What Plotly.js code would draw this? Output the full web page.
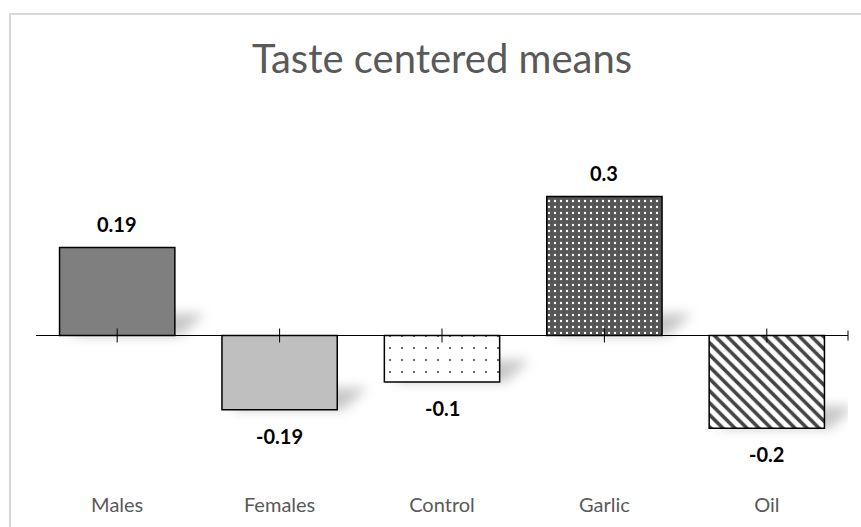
<!DOCTYPE html>
<html>
<head>
<meta charset="utf-8">
<script src="https://cdn.plot.ly/plotly-3.0.1.min.js"></script>
<style>
  html, body { margin: 0; padding: 0; background: #ffffff; overflow: hidden; }
  #frame { position: absolute; left: 9px; top: 13px; width: 900px; height: 600px;
           border-left: 2px solid #d9d9d9; border-top: 2px solid #d9d9d9; }
  #chart { position: absolute; left: 0; top: 0; width: 861px; height: 527px; }
</style>
</head>
<body>
<div id="frame"></div>
<div id="chart"></div>
<script>
// ---- data ----
const categories = ["Males", "Females", "Control", "Garlic", "Oil"];
const barValues = [0.19, -0.16, -0.10, 0.30, -0.20];
const labelTexts = ["0.19", "-0.19", "-0.1", "0.3", "-0.2"];
const chartTitle = "Taste centered means";

// ---- styles ----
const FONT = "Lato, 'Open Sans', sans-serif";
const patternShapes = ["", "", ".", ".", "\\"];
const barFill = ["#7f7f7f", "#bfbfbf", "#ffffff", "#555555", "#ffffff"];
const patternFg = ["#7f7f7f", "#bfbfbf", "#000000", "#ffffff", "#404040"];
const patternSize = [8, 8, 12, 6, 8.5];
const patternSolidity = [0.3, 0.3, 0.025, 0.12, 0.42];

const barTrace = {
  type: "bar",
  x: categories,
  y: barValues,
  marker: {
    color: barFill,
    line: { color: "#000000", width: 1.5 },
    pattern: {
      shape: patternShapes,
      fillmode: "overlay",
      fgcolor: patternFg,
      fgopacity: 1,
      size: patternSize,
      solidity: patternSolidity
    }
  },
  hoverinfo: "x+y",
  showlegend: false
};

const tickTrace = {
  type: "scatter",
  mode: "markers",
  x: categories,
  y: categories.map(() => 0),
  marker: { symbol: "line-ns-open", size: 10, color: "#000000", line: { color: "#000000", width: 1 } },
  hoverinfo: "skip",
  showlegend: false
};

const annotations = categories.map((c, i) => ({
  x: c,
  y: barValues[i],
  xref: "x",
  yref: "y",
  text: "<b>" + labelTexts[i] + "</b>",
  showarrow: false,
  yanchor: "middle",
  yshift: barValues[i] >= 0 ? 23 : -26,
  font: { family: FONT, size: 20, color: "#000000" }
}));

const layout = {
  width: 861,
  height: 527,
  margin: { l: 36, r: 13, t: 150, b: 57 },
  paper_bgcolor: "rgba(0,0,0,0)",
  plot_bgcolor: "rgba(0,0,0,0)",
  bargap: 0.29,
  title: {
    text: chartTitle,
    font: { family: FONT, size: 40, color: "#595959" },
    xref: "paper", x: 0.5, xanchor: "center",
    yref: "container", y: 1 - 59 / 527, yanchor: "middle"
  },
  xaxis: {
    type: "category",
    showgrid: false,
    showline: false,
    zeroline: false,
    ticks: "",
    ticklabelstandoff: 21,
    tickfont: { family: FONT, size: 20, color: "#595959" },
    fixedrange: true
  },
  yaxis: {
    range: [-0.29, 0.4],
    showgrid: false,
    showline: false,
    showticklabels: false,
    ticks: "",
    zeroline: true,
    zerolinecolor: "#000000",
    zerolinewidth: 1,
    fixedrange: true
  },
  shapes: [{
    type: "line",
    xref: "paper", x0: 1, x1: 1,
    yref: "y", ysizemode: "pixel", yanchor: 0, y0: -5, y1: 5,
    line: { color: "#000000", width: 1 }
  }],
  annotations: annotations
};

function addShadows(gd) {
  const svgNS = "http://www.w3.org/2000/svg";
  const defs = gd.querySelector(".main-svg defs");
  if (defs && !defs.querySelector("#barShadowBlur")) {
    const f = document.createElementNS(svgNS, "filter");
    f.setAttribute("id", "barShadowBlur");
    f.setAttribute("x", "-50%"); f.setAttribute("y", "-50%");
    f.setAttribute("width", "200%"); f.setAttribute("height", "200%");
    const b = document.createElementNS(svgNS, "feGaussianBlur");
    b.setAttribute("stdDeviation", "6");
    f.appendChild(b);
    defs.appendChild(f);
  }
  const groups = gd.querySelectorAll(".barlayer .trace.bars .points");
  groups.forEach(g => {
    const paths = Array.from(g.querySelectorAll(".point path"));
    paths.forEach(p => {
      const bb = p.getBBox();
      const yb = bb.y + bb.height;
      const x0 = bb.x, w = bb.width;
      const d = "M" + (x0 + 8) + "," + yb + " L" + (x0 + w + 6) + "," + yb +
                " L" + (x0 + w + 30) + "," + (yb - 22) + " L" + (x0 + 30) + "," + (yb - 22) + " Z";
      const sh = document.createElementNS(svgNS, "path");
      sh.setAttribute("d", d);
      sh.setAttribute("fill", "rgba(0,0,0,0.22)");
      sh.setAttribute("filter", "url(#barShadowBlur)");
      g.insertBefore(sh, g.firstChild);
    });
  });
}

Plotly.newPlot("chart", [barTrace, tickTrace], layout, { displayModeBar: false, staticPlot: true })
  .then(addShadows);
</script>
</body>
</html>
